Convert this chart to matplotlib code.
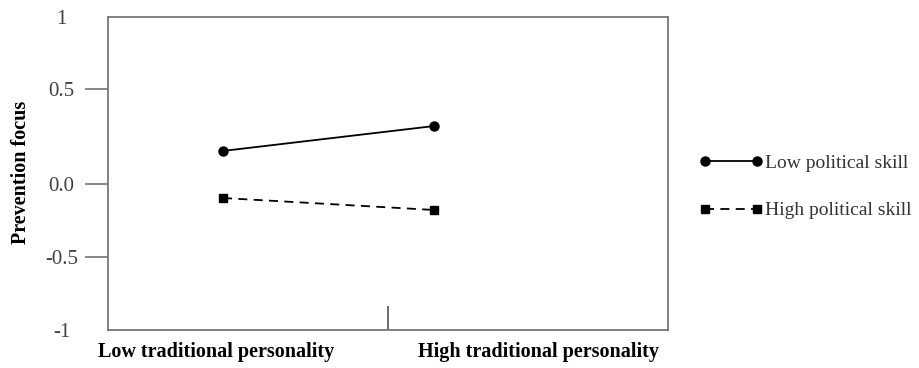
import numpy as np
import matplotlib.pyplot as plt

# Data
conditions = ["Low traditional personality", "High traditional personality"]
low_skill = [0.174, 0.305]
high_skill = [-0.096, -0.178]
series_labels = ["Low political skill", "High political skill"]

# the original y axis has uneven tick spacing; keep it with a piecewise scale
tick_vals = [-1, -0.5, 0.0, 0.5, 1]
tick_text = ["-1", "-0.5", "0.0", "0.5", "1"]
tick_room = [0, 73, 146, 241, 313]


def fwd(v):
    return np.interp(v, tick_vals, tick_room)


def inv(p):
    return np.interp(p, tick_room, tick_vals)


plt.rcParams['font.family'] = ['Liberation Serif', 'DejaVu Serif']

fig = plt.figure(figsize=(9.19, 3.68), dpi=100)
ax = fig.add_axes([108 / 919, 38 / 368, 560 / 919, 313 / 368])

x = [0, 1]
ax.plot(x, low_skill, color='black', lw=1.3, marker='o', ms=6.5,
        label=series_labels[0])
ax.plot(x, high_skill, color='black', lw=1.3, ls=(0, (5, 3.5)), marker='s',
        ms=6, label=series_labels[1])

ax.set_yscale('function', functions=(fwd, inv))
ax.set_ylim(-1, 1)
ax.set_xlim(-0.545, 2.109)

ax.set_yticks(tick_vals)
ax.set_yticklabels(tick_text, ha='center')
ax.tick_params(axis='y', direction='out', length=16.5, width=1.1,
               color='#666666', pad=17, labelsize=15, labelcolor='#404040')
yt = ax.yaxis.get_major_ticks()
yt[0].tick1line.set_visible(False)
yt[-1].tick1line.set_visible(False)
ax.yaxis.set_minor_locator(plt.NullLocator())

ax.set_xticks([-0.033, 1.493])
ax.set_xticklabels(conditions, fontweight='bold')
ax.tick_params(axis='x', which='major', length=0, pad=9, labelsize=14.5)
ax.set_xticks([0.782], minor=True)
ax.tick_params(axis='x', which='minor', direction='in', length=17, width=1.1,
               color='#444444')

for s in ax.spines.values():
    s.set_color('#777777')
    s.set_linewidth(1.3)

ax.set_ylabel("Prevention focus", fontsize=14.5, fontweight='bold')
ax.yaxis.set_label_coords(-0.138, 0.505)

leg = ax.legend(loc='center left', bbox_to_anchor=(1.055, 0.458),
                frameon=False, numpoints=2, handlelength=3.3,
                handletextpad=0.12, labelspacing=1.55, borderpad=0,
                borderaxespad=0, fontsize=14)
for t in leg.get_texts():
    t.set_color('#333333')

fig.savefig('out.png', dpi=100)
